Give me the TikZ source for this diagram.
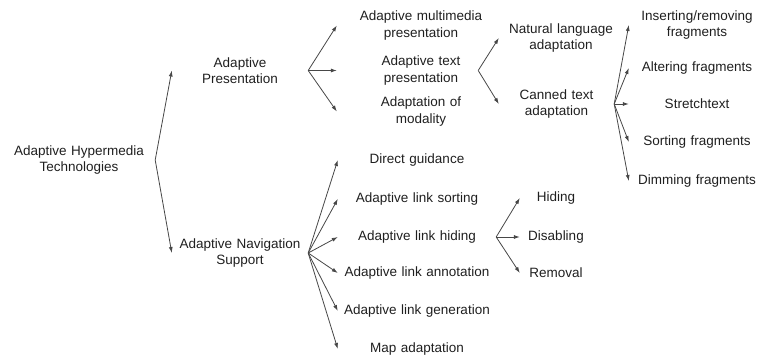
\documentclass[tikz,border=0pt]{standalone}
\usepackage{fontspec}
\setmainfont{Liberation Sans}
\usetikzlibrary{arrows.meta}
\begin{document}
\begin{tikzpicture}[x=1pt,y=-1pt,
  lbl/.style={align=center, inner sep=0pt, text=black!88,
    font=\fontsize{13.5}{16.5}\selectfont},
  arr/.style={draw=black!72, line width=0.8pt, -{Latex[length=6pt,width=4pt]}}]
\useasboundingbox (0,0) rectangle (759,358);

% root and the two main branches
\node[lbl, text width=152pt] (root) at (79,160) {Adaptive Hypermedia\\Technologies};
\node[lbl, text width=136pt] (pres) at (240,70.5) {Adaptive\\Presentation};
\node[lbl, text width=136pt] (nav)  at (240,253) {Adaptive Navigation\\Support};

% adaptive presentation
\node[lbl, text width=168pt] (mm)  at (421,25.5)  {Adaptive multimedia\\presentation};
\node[lbl, text width=114pt] (txt) at (421,70.5)  {Adaptive text\\presentation};
\node[lbl, text width=168pt] (mod) at (421,111.5) {Adaptation of\\modality};
\node[lbl, text width=124pt] (nla) at (561,38)    {Natural language\\adaptation};
\node[lbl, text width=115pt] (cta) at (556.5,104) {Canned text\\adaptation};

% canned text techniques
\node[lbl, text width=136pt] (ins) at (697,25) {Inserting/removing\\fragments};
\node[lbl, text width=136pt] (alt) at (697,68)   {Altering fragments};
\node[lbl, text width=136pt] (str) at (697,104)  {Stretchtext};
\node[lbl, text width=136pt] (sor) at (697,142)  {Sorting fragments};
\node[lbl, text width=136pt] (dim) at (697,181)  {Dimming fragments};

% adaptive navigation support
\node[lbl, text width=158pt] (dg) at (417,160) {Direct guidance};
\node[lbl, text width=158pt] (ls) at (417,199) {Adaptive link sorting};
\node[lbl, text width=158pt] (lh) at (417,237) {Adaptive link hiding};
\node[lbl, text width=158pt] (la) at (417,273) {Adaptive link annotation};
\node[lbl, text width=158pt] (lg) at (417,311) {Adaptive link generation};
\node[lbl, text width=158pt] (ma) at (417,349) {Map adaptation};

% link hiding variants
\node[lbl, text width=72pt] (hid) at (556,198) {Hiding};
\node[lbl, text width=72pt] (dis) at (556,237) {Disabling};
\node[lbl, text width=72pt] (rem) at (556,273) {Removal};

% connectors
\draw[arr] (root.east) -- (pres.west);
\draw[arr] (root.east) -- (nav.west);

\draw[arr] (pres.east) -- (mm.west);
\draw[arr, shorten >=27pt] (pres.east) -- (txt.west);
\draw[arr] (pres.east) -- (mod.west);

\draw[arr] (txt.east) -- (nla.west);
\draw[arr] (txt.east) -- (cta.west);

\foreach \t in {ins,alt,str,sor,dim}
  \draw[arr] (cta.east) -- (\t.west);

\foreach \t in {dg,ls,lh,la,lg,ma}
  \draw[arr] (nav.east) -- (\t.west);

\foreach \t in {hid,dis,rem}
  \draw[arr] (lh.east) -- (\t.west);
\end{tikzpicture}
\end{document}
